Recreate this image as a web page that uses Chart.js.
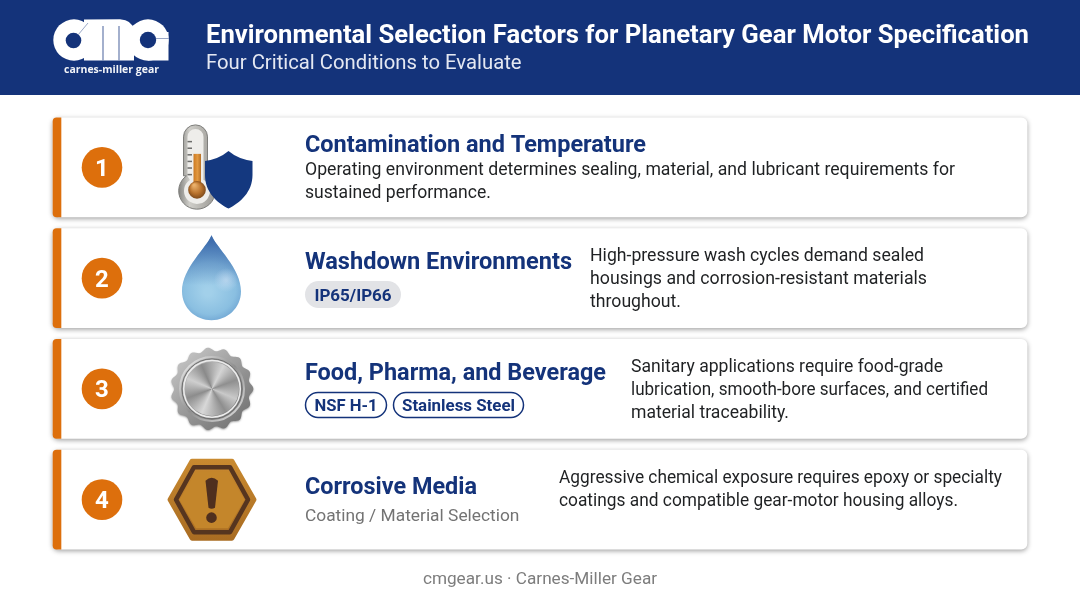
<!DOCTYPE html>
<html><head><meta charset="utf-8">
<style>html,body{margin:0;padding:0;background:#fff;overflow:hidden}canvas{display:block;filter:blur(0.35px)}</style>
<script src="https://cdn.jsdelivr.net/npm/chart.js@4"></script>
</head><body><canvas id="c" width="1080" height="603"></canvas>
<script>
const categories = ["Contamination and Temperature","Washdown Environments","Food, Pharma, and Beverage","Corrosive Media"];
const cardSpans = [[0,100],[0,100],[0,100],[0,100]];
const accentSpans = [[0,0.82],[0,0.82],[0,0.82],[0,0.82]];
const descriptions = [
 ["Operating environment determines sealing, material, and lubricant requirements for","sustained performance."],
 ["High-pressure wash cycles demand sealed","housings and corrosion-resistant materials","throughout."],
 ["Sanitary applications require food-grade","lubrication, smooth-bore surfaces, and certified","material traceability."],
 ["Aggressive chemical exposure requires epoxy or specialty","coatings and compatible gear-motor housing alloys."]
];
const titleText = "Environmental Selection Factors for Planetary Gear Motor Specification";
const subtitleText = "Four Critical Conditions to Evaluate";
const footerText = "cmgear.us · Carnes-Miller Gear";
const logoText = "carnes-miller gear";
const tagsFilled = "IP65/IP66";
const tagsOutlined = ["NSF H-1","Stainless Steel"];
const noteText = "Coating / Material Selection";

const NAVY="#14337a", HEAD="#14337a", ORANGE="#dd6f0c", INK="#1f2123";
const F='Roboto, sans-serif';

function T(ctx,s,x,y,font,color,align,w){
  ctx.font=font;ctx.fillStyle=color;ctx.textAlign=align||'left';ctx.textBaseline='alphabetic';
  if(w)ctx.fillText(s,x,y,w);else ctx.fillText(s,x,y);
}
function logo(ctx){
  ctx.save();ctx.fillStyle='#fff';
  ctx.beginPath();ctx.arc(74,40,20.7,0,7);ctx.fill();
  ctx.beginPath();ctx.moveTo(84,60.5);ctx.lineTo(84,19.5);ctx.lineTo(120,19.3);ctx.quadraticCurveTo(132,20,134,30);ctx.lineTo(134,60.5);ctx.closePath();ctx.fill();
  ctx.beginPath();ctx.arc(148,40,20.7,0,7);ctx.fill();
  ctx.fillRect(148,32,20.5,28.5);
  ctx.fillStyle=HEAD;
  ctx.beginPath();ctx.arc(73.5,40.5,7.8,0,7);ctx.fill();
  ctx.beginPath();ctx.arc(148,40,8.2,0,7);ctx.fill();
  ctx.strokeStyle='#8e9dc0';ctx.lineWidth=.9;
  ctx.beginPath();ctx.moveTo(78,35);ctx.lineTo(88,23);ctx.moveTo(156,38.5);ctx.lineTo(169,38.5);ctx.stroke();
  ctx.strokeStyle='#5a70a5';ctx.lineWidth=1.1;
  ctx.beginPath();ctx.moveTo(103,26);ctx.lineTo(103,60.5);ctx.moveTo(119,26);ctx.lineTo(119,60.5);ctx.stroke();
  ctx.restore();
  T(ctx,logoText,111.5,73,'700 11px "Open Sans", sans-serif','#f2f4f8','center',95);
}
function thermometer(ctx,cy){
  const dy=cy-167.5; ctx.save();ctx.translate(0,dy);
  const tube=new Path2D();
  tube.moveTo(183.5,176);tube.lineTo(183.5,137);tube.arc(195.5,137,12,Math.PI,0);tube.lineTo(207.5,176);
  tube.arc(197,191,18.3,-0.95,Math.PI+0.95,false);tube.closePath();
  const g=ctx.createLinearGradient(178,0,216,0);g.addColorStop(0,'#7f7f7c');g.addColorStop(.3,'#cfcec9');g.addColorStop(1,'#9a9893');
  ctx.fillStyle=g;ctx.fill(tube);
  ctx.strokeStyle='#7d7d7a';ctx.lineWidth=1;ctx.stroke(tube);
  ctx.fillStyle='#eeedea';ctx.beginPath();ctx.moveTo(187.5,176);ctx.lineTo(187.5,137);ctx.arc(195.5,137,8,Math.PI,0);ctx.lineTo(203.5,180);ctx.arc(197,191,13,-1,Math.PI+1);ctx.closePath();ctx.fill();
  const o=ctx.createLinearGradient(193,0,202,0);o.addColorStop(0,'#c9761e');o.addColorStop(.5,'#e2983f');o.addColorStop(1,'#a9651f');
  ctx.fillStyle=o;ctx.fillRect(193.5,154,7.5,30);
  const b=ctx.createRadialGradient(194,185,1,197,190,9);b.addColorStop(0,'#eab06a');b.addColorStop(.6,'#b8722c');b.addColorStop(1,'#7d4a1b');
  ctx.fillStyle=b;ctx.beginPath();ctx.arc(197,190,8.8,0,7);ctx.fill();
  ctx.fillStyle='#6d6d6b';for(let i=0;i<6;i++)ctx.fillRect(187.5,141+i*6.6,4.5,1.5);
  // shield
  ctx.fillStyle='#14387f';ctx.beginPath();ctx.moveTo(228.5,151);
  ctx.quadraticCurveTo(238,159,252.5,161);ctx.lineTo(252.5,175);
  ctx.bezierCurveTo(252.5,192,240,203,228.5,208.5);
  ctx.bezierCurveTo(217,203,205,192,205,175);ctx.lineTo(205,161);
  ctx.quadraticCurveTo(219,159,228.5,151);ctx.closePath();ctx.fill();
  ctx.restore();
}
function drop(ctx,cy){
  const dy=cy-278;ctx.save();ctx.translate(0,dy);
  const p=new Path2D();p.moveTo(211.5,235);
  p.bezierCurveTo(207,247,182,268,182,291);p.bezierCurveTo(182,308,196,320,211.5,320);
  p.bezierCurveTo(227,320,241,308,241,291);p.bezierCurveTo(241,268,216,247,211.5,235);p.closePath();
  const g=ctx.createRadialGradient(208,292,4,211,285,44);
  g.addColorStop(0,'#a2d0ea');g.addColorStop(.55,'#8abfe1');g.addColorStop(.85,'#6aa0d0');g.addColorStop(1,'#4b7fba');
  ctx.fillStyle=g;ctx.fill(p);
  ctx.save();ctx.clip(p);
  const h=ctx.createLinearGradient(205,240,205,285);h.addColorStop(0,'rgba(60,105,170,.8)');h.addColorStop(1,'rgba(60,105,170,0)');
  ctx.fillStyle=h;ctx.fillRect(175,230,70,60);
  const l=ctx.createRadialGradient(226,280,1,226,280,12);l.addColorStop(0,'rgba(205,225,245,.6)');l.addColorStop(1,'rgba(205,225,245,0)');
  ctx.fillStyle=l;ctx.fillRect(210,265,30,30);
  ctx.restore();
  ctx.restore();
}
function seal(ctx,cy){
  const cx=212;ctx.save();ctx.translate(cx,cy);
  const n=15,p=new Path2D();
  for(let a=0;a<=360;a+=2){const t=a*Math.PI/180,r=39.6+1.8*Math.cos(n*t);const x=r*Math.cos(t),y=r*Math.sin(t);a?p.lineTo(x,y):p.moveTo(x,y);}
  p.closePath();
  ctx.shadowColor='rgba(0,0,0,.35)';ctx.shadowBlur=2;ctx.shadowOffsetY=1;
  const g=ctx.createLinearGradient(-30,-35,30,35);g.addColorStop(0,'#c4c4c4');g.addColorStop(.5,'#999');g.addColorStop(1,'#737373');
  ctx.fillStyle=g;ctx.fill(p);ctx.shadowColor='transparent';
  const r1=ctx.createLinearGradient(-28,-28,28,28);r1.addColorStop(0,'#e9e9e9');r1.addColorStop(.5,'#8f8f8f');r1.addColorStop(1,'#d9d9d9');
  ctx.strokeStyle=r1;ctx.lineWidth=2;ctx.beginPath();ctx.arc(0,0,32,0,7);ctx.stroke();
  ctx.strokeStyle='#6f6f6f';ctx.lineWidth=1;ctx.beginPath();ctx.arc(0,0,30,0,7);ctx.stroke();
  const c=ctx.createConicGradient(0.4,0,0);
  [[0,'#c9c9c9'],[.1,'#8e8e8e'],[.25,'#d8d8d8'],[.38,'#8c8c8c'],[.5,'#cfcfcf'],[.62,'#8a8a8a'],[.76,'#d4d4d4'],[.88,'#8f8f8f'],[1,'#c9c9c9']].forEach(s=>c.addColorStop(s[0],s[1]));
  ctx.fillStyle=c;ctx.beginPath();ctx.arc(0,0,27,0,7);ctx.fill();
  ctx.strokeStyle='#ececec';ctx.lineWidth=1.5;ctx.beginPath();ctx.arc(0,0,28.3,0,7);ctx.stroke();
  ctx.restore();
}
function hexPath(cx,cy,hw,hh,tw){const p=new Path2D();p.moveTo(cx-hw,cy);p.lineTo(cx-tw,cy-hh);p.lineTo(cx+tw,cy-hh);p.lineTo(cx+hw,cy);p.lineTo(cx+tw,cy+hh);p.lineTo(cx-tw,cy+hh);p.closePath();return p;}
function hazard(ctx,cy){
  const cx=212;ctx.save();ctx.lineJoin='round';
  const o=hexPath(cx,cy,42,38.5,20);
  const og=ctx.createLinearGradient(0,cy-41,0,cy+41);og.addColorStop(0,'#c98a30');og.addColorStop(1,'#a96c22');
  ctx.fillStyle=og;ctx.strokeStyle=og;ctx.lineWidth=5;ctx.stroke(o);ctx.fill(o);
  const m=hexPath(cx,cy,36,32.5,18);ctx.strokeStyle='#56351f';ctx.lineWidth=4.5;ctx.stroke(m);
  const i=hexPath(cx,cy,32.5,28.5,16);ctx.fillStyle='#c4862b';ctx.lineWidth=1;ctx.fill(i);
  ctx.fillStyle='#4f2f1e';
  ctx.beginPath();ctx.moveTo(cx-6.5,cy-19);ctx.quadraticCurveTo(cx-.5,cy-25,cx+6,cy-19);ctx.lineTo(cx+3,cy+8);ctx.quadraticCurveTo(cx-.5,cy+10,cx-3.5,cy+8);ctx.closePath();ctx.fill();
  ctx.beginPath();ctx.arc(cx-.5,cy+18,5.3,0,7);ctx.fill();
  ctx.restore();
}
function pill(ctx,x,y,w,h,fill,stroke){ctx.beginPath();ctx.roundRect(x,y,w,h,h/2);if(fill){ctx.fillStyle=fill;ctx.fill();}if(stroke){ctx.strokeStyle=stroke;ctx.lineWidth=1.5;ctx.stroke();}}

const H='700 24px '+F, B='400 18px '+F;
const scene={id:'scene',
 beforeDatasetsDraw(ch){const c=ch.ctx;
  c.fillStyle='#fff';c.fillRect(0,0,1080,603);
  c.fillStyle=HEAD;c.fillRect(0,0,1080,95);
  logo(c);
  T(c,titleText,206,43,'700 26px '+F,'#ffffff','left',823);
  T(c,subtitleText,206,69,'400 20.3px '+F,'#e4e8f2');
  T(c,footerText,540,584,'400 17.2px '+F,'#7d7d7d','center');
 },
 beforeDatasetDraw(ch,a){if(a.index===0){const c=ch.ctx;c.save();c.shadowColor='rgba(0,0,0,.38)';c.shadowBlur=5;c.shadowOffsetY=1.5;}},
 afterDatasetDraw(ch,a){if(a.index===0)ch.ctx.restore();},
 afterDatasetsDraw(ch){const c=ch.ctx,ys=ch.scales.y;
  const cy=i=>ys.getPixelForValue(i);
  const xs=[305,590,631,559],first=[175,261,372,483],hb=[152,269,380,494];
  const headW=[341,267,301,172];
  const lineW=[[650,186],[334,337,91],[312,357,158],[443,399]];
  categories.forEach((name,i)=>{const y=cy(i);
   c.fillStyle=ORANGE;c.beginPath();c.arc(102,y,20.3,0,7);c.fill();
   T(c,String(i+1),102,y+8.5,'700 24px '+F,'#fff','center');
   T(c,name,305,hb[i],H,NAVY,'left',headW[i]);
   descriptions[i].forEach((l,j)=>T(c,l,xs[i],first[i]+j*23,B,INK,'left',lineW[i][j]));
  });
  thermometer(c,cy(0));drop(c,cy(1));seal(c,cy(2));hazard(c,cy(3));
  pill(c,305,281,96,27,'#e2e3e6');
  T(c,tagsFilled,353,300.5,'700 17px '+F,NAVY,'center',78);
  pill(c,305.5,392.5,81,25,null,NAVY);
  T(c,tagsOutlined[0],346,411,'700 17px '+F,NAVY,'center',63);
  pill(c,393.5,392.5,130,25,null,NAVY);
  T(c,tagsOutlined[1],458.5,411,'700 17px '+F,NAVY,'center',113);
  T(c,noteText,305,521,'400 17.35px '+F,'#737373');
 }};
new Chart(document.getElementById('c'),{type:'bar',
 data:{labels:categories,datasets:[
  {label:'Card',data:cardSpans,backgroundColor:'#fff',borderWidth:0,borderSkipped:false,borderRadius:6,barThickness:99,grouped:false,clip:false,order:2},
  {label:'Accent',data:accentSpans,backgroundColor:'#dd6f0c',borderWidth:0,borderSkipped:false,borderRadius:{topLeft:6,bottomLeft:6,topRight:0,bottomRight:0},barThickness:99,grouped:false,clip:false,order:1}
 ]},
 options:{indexAxis:'y',responsive:false,animation:false,devicePixelRatio:1,
  layout:{padding:{left:53,right:53,top:112,bottom:48}},
  plugins:{legend:{display:false},title:{display:false},tooltip:{enabled:false}},
  scales:{x:{type:'linear',min:0,max:100,display:false},y:{type:'category',display:false}}},
 plugins:[scene]});
</script></body></html>
